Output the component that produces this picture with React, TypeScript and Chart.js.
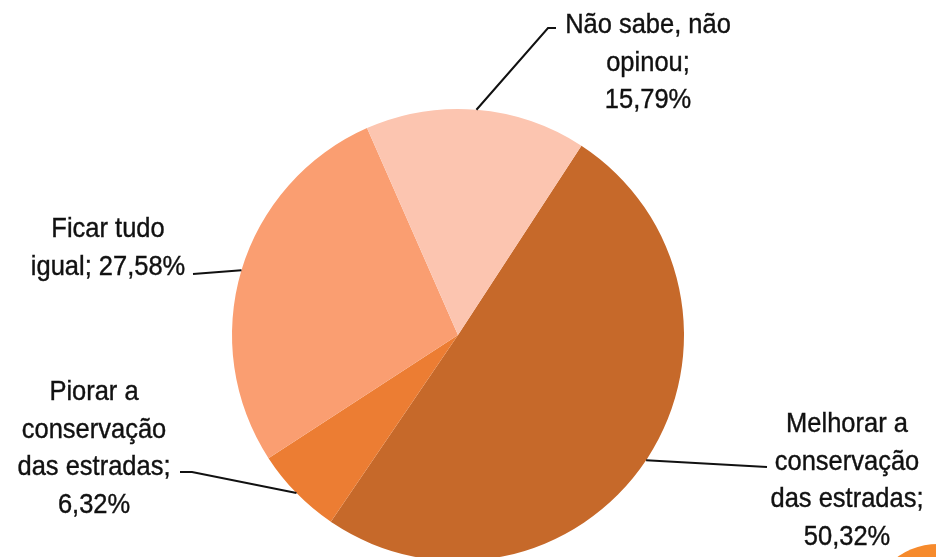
import React, { useEffect, useRef } from "react";
import { Chart, registerables } from "chart.js";

Chart.register(...registerables);

const categories = [
  "Melhorar a conservação das estradas",
  "Piorar a conservação das estradas",
  "Ficar tudo igual",
  "Não sabe, não opinou",
];
const values = [50.32, 6.32, 27.58, 15.79];
const labelLines = [
  ["Melhorar a", "conservação", "das estradas;", "{v}"],
  ["Piorar a", "conservação", "das estradas;", "{v}"],
  ["Ficar tudo", "igual; {v}"],
  ["Não sabe, não", "opinou;", "{v}"],
];
const colors = ["#C6692A", "#EC7D33", "#FA9E71", "#FCC5B0"];
const rotationDeg = 33.1;

// label text anchor (center x, first baseline y) and leader-line bend points
const labelLayout = [
  { x: 847, y: 432, pts: [[767, 467]] },
  { x: 94, y: 400, pts: [[192, 472], [180, 472]] },
  { x: 108, y: 237, pts: [[193, 274]] },
  { x: 648, y: 33, pts: [[548, 28], [556, 28]] },
];

const fmt = (v: number) => v.toFixed(2).replace(".", ",") + "%";

const labelPlugin = {
  id: "pieLabels",
  afterDraw(chart: any) {
    const ctx: CanvasRenderingContext2D = chart.ctx;
    const meta = chart.getDatasetMeta(0);
    meta.data.forEach((arc: any, i: number) => {
      const { x, y, startAngle, endAngle, outerRadius } = arc.getProps(
        ["x", "y", "startAngle", "endAngle", "outerRadius"],
        true
      );
      const mid = (startAngle + endAngle) / 2;
      const ax = x + Math.cos(mid) * outerRadius;
      const ay = y + Math.sin(mid) * outerRadius;
      const lay = labelLayout[i];
      ctx.save();
      ctx.strokeStyle = "#111";
      ctx.lineWidth = 2;
      ctx.beginPath();
      ctx.moveTo(ax, ay);
      lay.pts.forEach((p) => ctx.lineTo(p[0], p[1]));
      ctx.stroke();
      ctx.fillStyle = "#111";
      ctx.strokeStyle = "#111";
      ctx.lineWidth = 0.4;
      ctx.textAlign = "center";
      ctx.textBaseline = "alphabetic";
      const lines = labelLines[i].map((l) => l.replace("{v}", fmt(values[i])));
      lines.forEach((l, k) => {
        const ly = lay.y + k * 37.5;
        ctx.save();
        ctx.font = '28px "Liberation Sans", Arial, sans-serif';
        ctx.translate(lay.x, ly);
        ctx.scale(0.91, 1);
        ctx.fillText(l, 0, 0);
        ctx.strokeText(l, 0, 0);
        ctx.restore();
      });
      ctx.restore();
    });
  },
};

export default function App() {
  const ref = useRef<HTMLCanvasElement>(null);
  useEffect(() => {
    document.body.style.margin = "0";
    const chart = new Chart(ref.current!, {
      type: "pie",
      data: {
        labels: categories,
        datasets: [
          {
            data: values,
            backgroundColor: colors,
            borderWidth: 0,
          },
        ],
      },
      options: {
        responsive: false,
        animation: false,
        devicePixelRatio: 1,
        rotation: rotationDeg,
        layout: { padding: { left: 232, right: 252, top: 109, bottom: 39 } },
        plugins: {
          legend: { display: false },
          tooltip: { enabled: false },
        },
      },
      plugins: [labelPlugin],
    });
    return () => chart.destroy();
  }, []);
  return (
    <div
      style={{
        position: "fixed",
        left: 0,
        top: 0,
        width: 936,
        height: 557,
        overflow: "hidden",
        background: "#fff",
      }}
    >
      <canvas ref={ref} width={936} height={600} style={{ display: "block" }} />
      <div
        style={{
          position: "absolute",
          left: 938 - 70,
          top: 614 - 70,
          width: 140,
          height: 140,
          borderRadius: "50%",
          background: "#F68A2C",
        }}
      />
    </div>
  );
}
